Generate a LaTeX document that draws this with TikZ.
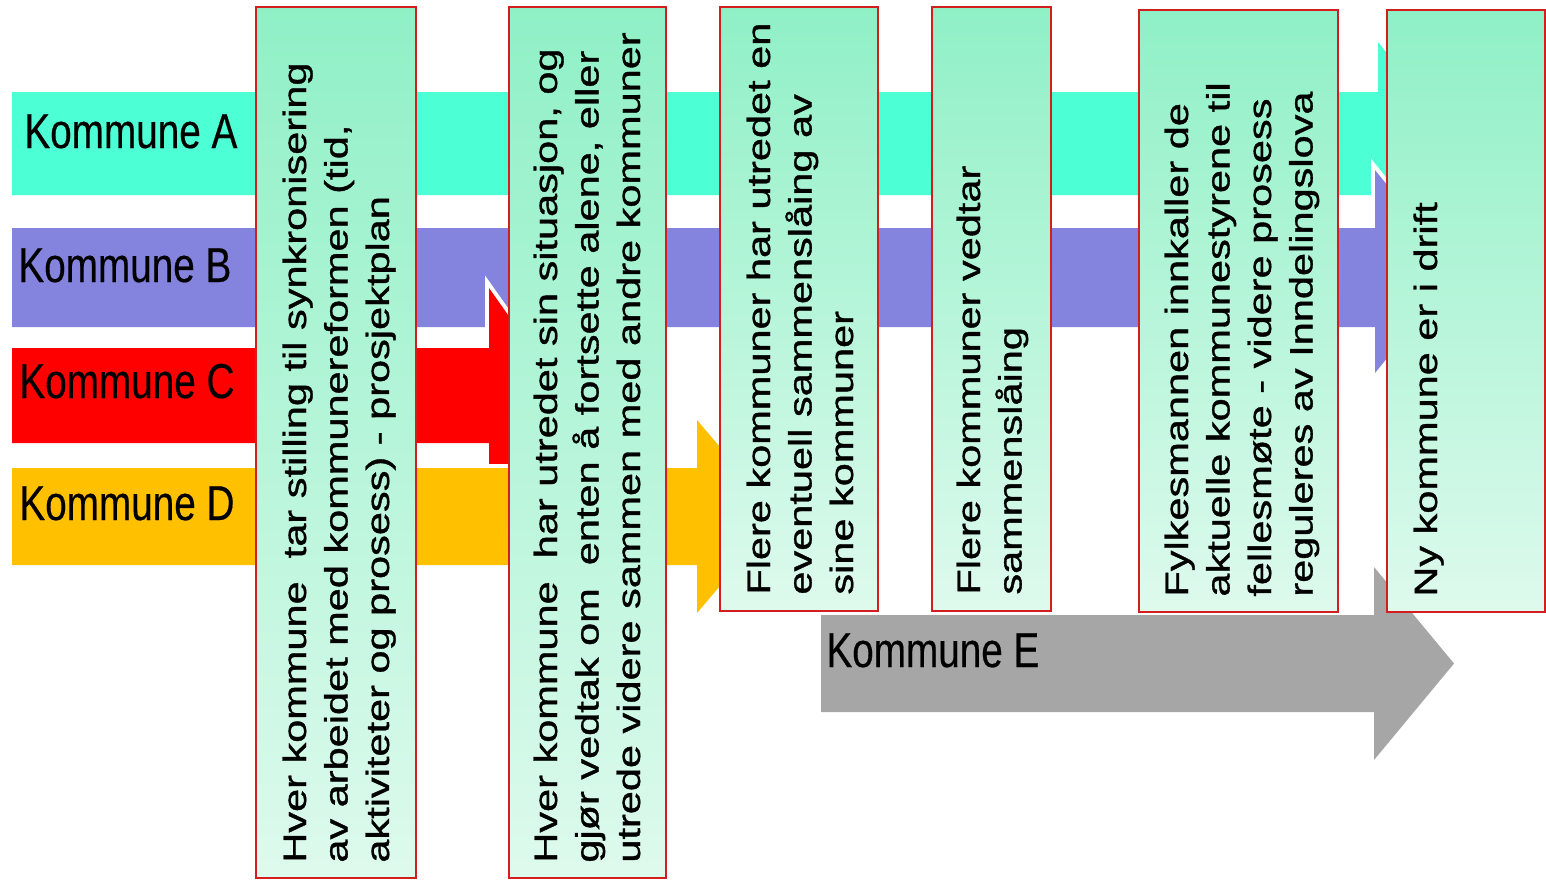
\documentclass[tikz,border=0pt]{standalone}
\usepackage{fontspec}
\setmainfont{Liberation Sans}
\newfontfamily\stepfont[FakeBold=0.9]{Liberation Sans}
\newfontfamily\kommfont[FakeBold=0.4]{Liberation Sans}
\usepackage{graphicx}
\definecolor{bandA}{RGB}{77,255,212}
\definecolor{bandB}{RGB}{132,132,222}
\definecolor{bandC}{RGB}{255,0,0}
\definecolor{bandD}{RGB}{255,192,0}
\definecolor{bandE}{RGB}{166,166,166}
\definecolor{boxtop}{RGB}{143,240,198}
\definecolor{boxbot}{RGB}{222,250,237}
\definecolor{boxred}{RGB}{210,30,30}
\begin{document}
\begin{tikzpicture}[x=0.5pt, y=-0.5pt,
		band/.style={preaction={draw=white, line width=4pt}},
		stepbox/.style={draw=boxred, line width=1pt, top color=boxtop, bottom color=boxbot},
		boxtext/.style={rotate=90, anchor=base west, inner sep=0pt, font=\stepfont\fontsize{20.75}{26.6}\selectfont},
		kommlabel/.style={anchor=base west, inner sep=0pt, font=\kommfont\fontsize{24.5}{29}\selectfont}]
			\useasboundingbox (0,0) rectangle (1546,880);
			% kommune arrows
			\fill[bandA, band] (12,92) -- (1378,92) -- (1378,42) -- (1460,143.5) -- (1378,245) -- (1378,195) -- (12,195) -- cycle;
			\fill[bandB, band] (12,228) -- (1375,228) -- (1375,170) -- (1457,271.5) -- (1375,373) -- (1375,327) -- (12,327) -- cycle;
			\fill[bandC, band] (12,348) -- (489,348) -- (489,288) -- (565,395.5) -- (489,503) -- (489,443) -- (12,443) -- cycle;
			\fill[bandD, band] (12,468) -- (697,468) -- (697,420) -- (779,516.5) -- (697,613) -- (697,565) -- (12,565) -- cycle;
			\fill[bandE, band] (821,615) -- (1374,615) -- (1374,567) -- (1454,663.5) -- (1374,760) -- (1374,712) -- (821,712) -- cycle;
			\node[kommlabel] (labA) at (24,148) {\scalebox{0.79}[1]{Kommune A}};
			\node[kommlabel] (labB) at (18,282) {\scalebox{0.79}[1]{Kommune B}};
			\node[kommlabel] (labC) at (19,398) {\scalebox{0.79}[1]{Kommune C}};
			\node[kommlabel] (labD) at (19,520) {\scalebox{0.79}[1]{Kommune D}};
			\node[kommlabel] (labE) at (826,667) {\scalebox{0.79}[1]{Kommune E}};
			% steps
			\shade[stepbox] (256,7) rectangle (416,878);
			\shade[stepbox] (509,7) rectangle (666,878);
			\shade[stepbox] (720,7) rectangle (878,611);
			\shade[stepbox] (932,7) rectangle (1051,611);
			\shade[stepbox] (1139,10) rectangle (1338,612);
			\shade[stepbox] (1387,10) rectangle (1545,612);
			\node[boxtext] (step1) at (306,863) {\scalebox{1}[0.78]{\begin{tabular}[t]{@{}l@{}}
				Hver kommune\ \ tar stilling til synkronisering\\
				av arbeidet med kommunereformen (tid,\\
				aktiviteter og prosess) - prosjektplan\end{tabular}}};
			\node[boxtext] (step2) at (557,863) {\scalebox{1}[0.78]{\begin{tabular}[t]{@{}l@{}}
				Hver kommune\ \ har utredet sin situasjon, og\\
				gjør vedtak om\ \ enten å fortsette alene, eller\\
				utrede videre sammen med andre kommuner\end{tabular}}};
			\node[boxtext] (step3) at (770,595) {\scalebox{1}[0.78]{\begin{tabular}[t]{@{}l@{}}
				Flere kommuner har utredet en\\
				eventuell sammenslåing av\\
				sine kommuner\end{tabular}}};
			\node[boxtext] (step4) at (980,595) {\scalebox{1}[0.78]{\begin{tabular}[t]{@{}l@{}}
				Flere kommuner vedtar\\
				sammenslåing\end{tabular}}};
			\node[boxtext] (step5) at (1188,597) {\scalebox{1}[0.78]{\begin{tabular}[t]{@{}l@{}}
				Fylkesmannen innkaller de\\
				aktuelle kommunestyrene til\\
				fellesmøte - videre prosess\\
				reguleres av Inndelingslova\end{tabular}}};
			\node[boxtext] (step6) at (1437,597) {\scalebox{1}[0.78]{\begin{tabular}[t]{@{}l@{}}
				Ny kommune er i drift\end{tabular}}};
		\end{tikzpicture}
\end{document}
